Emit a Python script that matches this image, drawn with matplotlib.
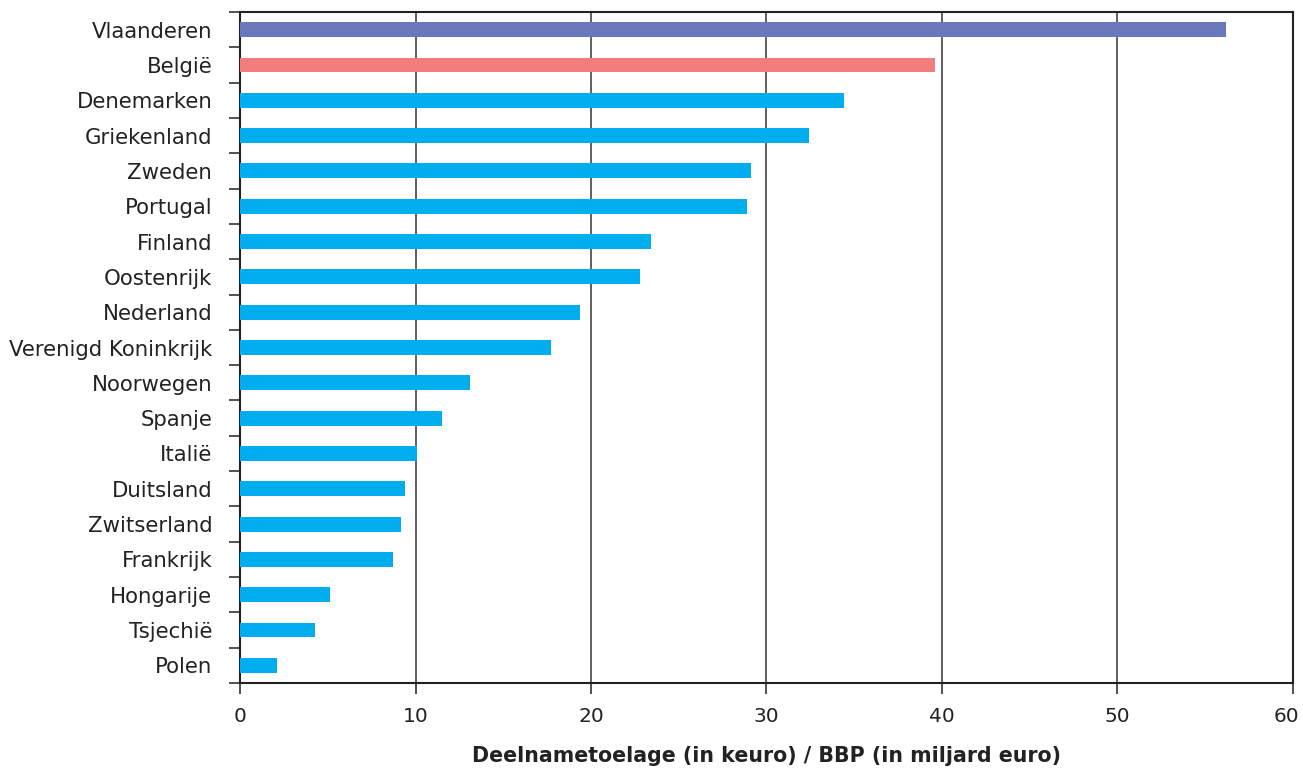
import matplotlib
matplotlib.use("Agg")
import matplotlib.pyplot as plt
import matplotlib.transforms as mtransforms
import numpy as np

countries = ["Vlaanderen", "België", "Denemarken", "Griekenland", "Zweden", "Portugal",
             "Finland", "Oostenrijk", "Nederland", "Verenigd Koninkrijk", "Noorwegen",
             "Spanje", "Italië", "Duitsland", "Zwitserland", "Frankrijk", "Hongarije",
             "Tsjechië", "Polen"]
values = [56.2, 39.6, 34.4, 32.4, 29.1, 28.9, 23.4, 22.8, 19.4, 17.7, 13.1,
          11.5, 10.1, 9.4, 9.2, 8.7, 5.1, 4.3, 2.1]
colors = ["#6779BA", "#F37D7E"] + ["#00AEEF"] * (len(countries) - 2)

plt.rcParams['font.family'] = ['DejaVu Sans']

fig = plt.figure(figsize=(13.03, 7.73), dpi=100)
ax = fig.add_axes([0.1842, 0.1164, 0.9923 - 0.1842, 0.9845 - 0.1164])

n = len(countries)
y = np.arange(n)[::-1]
ax.barh(y, values, height=0.42, color=colors, zorder=3)

ax.set_xlim(0, 60)
ax.set_ylim(-0.5, n - 0.5)
ax.set_xticks(np.arange(0, 61, 10))
ax.tick_params(axis='x', direction='out', length=8, width=1.2, color='#333333',
               labelsize=14.5, labelcolor='#222222', pad=9)
ax.set_yticks(y)
ax.set_yticklabels(countries)
ax.tick_params(axis='y', which='major', length=0, labelsize=15.3, labelcolor='#222222', pad=20)
ax.set_yticks(np.arange(-0.5, n, 1.0), minor=True)
ax.tick_params(axis='y', which='minor', direction='out', length=8, width=1.2, color='#333333')

# nudge the last x tick label inward so it stays within the figure
last = ax.get_xticklabels()[-1]
last.set_transform(last.get_transform() +
                   mtransforms.ScaledTranslation(-0.07, 0, fig.dpi_scale_trans))

ax.grid(axis='x', color='#444444', linewidth=1.2, zorder=0)
for s in ax.spines.values():
    s.set_color('#222222')
    s.set_linewidth(1.5)

ax.set_xlabel("Deelnametoelage (in keuro) / BBP (in miljard euro)", fontsize=14.8,
              fontweight='bold', color='#222222', labelpad=15)

fig.savefig("out.png", dpi=100)
